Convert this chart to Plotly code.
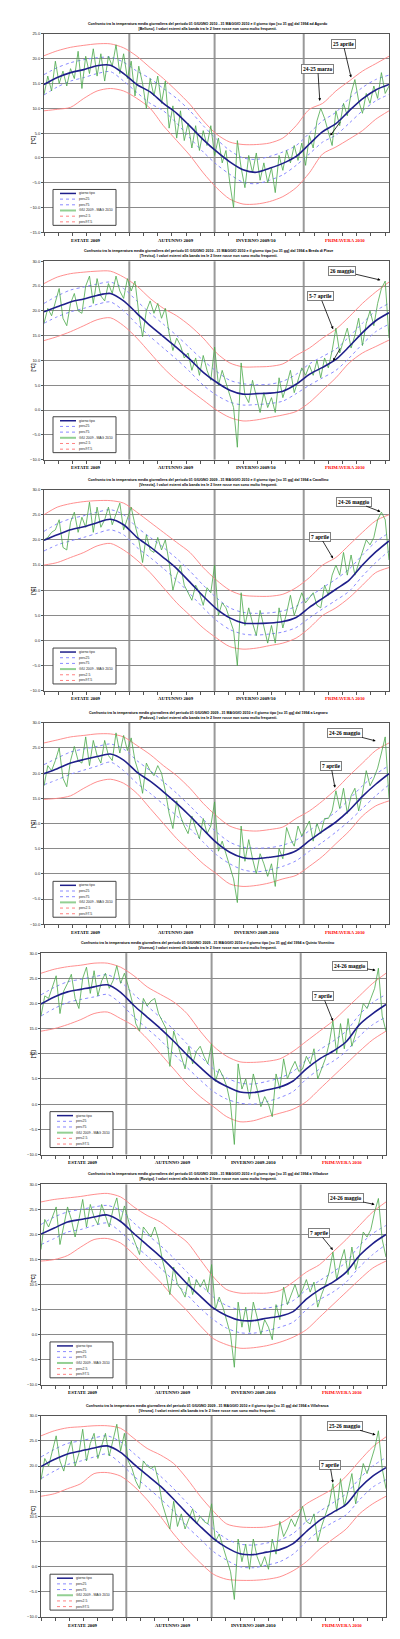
"""Temperatura media giornaliera GIU 2009 - MAG 2010 vs giorno tipo, 7 stazioni venete."""
import plotly.graph_objects as go

W, H = 400, 1639

# giorni dal 1 giugno 2009 (0) al 31 maggio 2010 (364)
SMOOTH_DAYS = list(range(0, 365, 14))
GG_DAYS = list(range(0, 365, 4))
TICK_DAYS = list(range(0, 365, 15))
SEASON_EDGES = [90, 180, 274]
SEASON_MID = [44, 139, 224, 318]

# ── Agordo ────────────────────────────────────────────────────────────
AGORDO_TIPO = [14.8, 16.2, 17.2, 17.8, 18.6, 18.7, 17.0, 14.8, 13.3, 11.0, 9.0, 6.4, 3.7, 1.3,
               -0.8, -2.4, -2.9, -2.1, -1.1, 0.3, 2.8, 5.3, 6.9, 9.5, 11.9, 13.7, 14.8]
AGORDO_P75 = [16.8, 18.2, 19.2, 19.8, 20.2, 20.3, 19.3, 17.5, 16.0, 14.0, 12.0, 9.5, 6.5, 3.8,
              1.5, 0.0, -0.3, 0.3, 1.2, 2.5, 5.0, 7.5, 9.2, 12.0, 14.2, 15.8, 16.7]
AGORDO_P25 = [12.7, 14.3, 15.5, 16.2, 17.0, 17.4, 15.5, 13.2, 11.0, 9.5, 7.0, 4.0, 1.2, -1.3,
              -3.3, -4.9, -5.2, -4.5, -3.4, -1.5, 0.8, 3.2, 4.6, 7.0, 9.5, 11.5, 12.8]
AGORDO_P975 = [20.6, 21.6, 22.3, 22.7, 23.0, 23.0, 22.2, 20.5, 18.2, 16.0, 13.5, 10.8, 7.5, 4.8,
               3.2, 2.7, 2.7, 3.0, 4.0, 6.5, 9.8, 11.0, 13.5, 15.5, 17.5, 19.0, 20.5]
AGORDO_P025 = [9.5, 9.8, 10.2, 12.0, 13.5, 14.0, 13.5, 12.0, 10.0, 6.5, 3.5, 0.5, -3.0, -6.0,
               -8.3, -9.3, -9.3, -8.8, -7.8, -6.0, -3.0, 0.8, 2.2, 3.8, 5.5, 7.8, 9.5]
AGORDO_GG = [12.8, 16.5, 13.5, 19.5, 15.0, 17.5, 14.5, 18.0, 16.0, 21.5,
             14.0, 20.5, 17.0, 22.0, 16.5, 21.0, 15.5, 20.5, 18.5, 22.8,
             17.0, 21.0, 16.0, 19.5, 12.5, 18.5, 15.0, 10.0, 16.0, 12.5,
             16.5, 11.0, 15.5, 6.0, 10.5, 4.0, 9.5, 3.5, 7.0, 2.0,
             6.5, 1.5, 5.5, 2.5, 6.5, 0.5, 4.0, -1.0, 1.5, -5.0,
             -10.0, 3.5, -2.0, -6.0, 0.5, -3.0, 1.0, -4.5, -1.0, -5.0,
             -2.0, -7.0, 0.5, -2.5, 1.5, -1.0, 2.5, -0.5, 3.0, -1.5,
             4.5, 2.0, 7.5, 10.0, 8.0, 5.5, 2.5, 9.5, 6.5, 11.0,
             8.5, 13.0, 15.8, 11.5, 9.0, 13.0, 11.0, 14.5, 12.0, 17.2,
             13.0, 14.5]

# ── Breda di Piave ────────────────────────────────────────────────────
BREDA_TIPO = [19.8, 20.8, 21.8, 22.4, 23.1, 23.5, 22.0, 19.5, 17.0, 14.8, 12.6, 10.2, 7.6, 5.6,
              4.0, 3.2, 3.3, 3.4, 3.8, 5.2, 7.2, 8.6, 10.2, 12.8, 15.6, 18.0, 19.6]
BREDA_P75 = [21.5, 23.0, 24.2, 24.8, 25.4, 25.8, 24.5, 22.0, 19.5, 17.3, 15.0, 12.5, 10.0, 7.8,
             6.0, 5.3, 5.1, 5.2, 5.8, 7.2, 9.3, 10.8, 12.3, 14.8, 17.5, 20.0, 21.5]
BREDA_P25 = [17.5, 18.8, 19.8, 20.5, 21.3, 21.8, 20.0, 17.3, 14.8, 12.5, 10.2, 7.7, 5.0, 3.0,
             1.6, 1.0, 1.1, 1.3, 1.8, 3.3, 5.0, 6.5, 8.0, 10.5, 13.3, 15.8, 17.3]
BREDA_P975 = [25.5, 26.8, 27.5, 27.8, 28.0, 28.0, 26.8, 25.0, 22.5, 20.5, 19.0, 17.0, 14.5, 11.5,
              9.5, 8.7, 8.7, 8.8, 9.3, 11.0, 12.5, 14.5, 16.3, 18.8, 21.5, 23.8, 25.8]
BREDA_P025 = [14.0, 14.8, 15.8, 17.0, 18.2, 18.6, 17.0, 14.5, 11.5, 8.5, 6.0, 4.0, 2.0, 0.0,
              -1.5, -2.2, -2.0, -1.5, -1.0, -0.3, 1.5, 4.0, 6.5, 9.5, 11.5, 12.8, 14.1]
BREDA_GG = [17.5, 20.5, 19.0, 21.5, 24.5, 18.5, 17.0, 21.5, 23.5, 20.0,
            19.5, 25.0, 27.0, 21.5, 26.5, 23.0, 22.0, 25.5, 23.5, 27.0,
            24.0, 22.5, 26.5, 24.0, 26.0, 19.5, 14.8, 20.0, 22.0, 19.5,
            21.5, 18.5, 20.5, 15.5, 12.0, 14.5, 13.0, 10.5, 11.5, 8.0,
            10.5, 7.0, 11.0, 8.0, 6.0, 12.7, 5.0, 8.0, 5.5, 3.5,
            0.5, -7.5, 9.5, 3.0, 1.5, 6.0, 3.0, -0.5, 3.5, 0.5,
            2.5, -0.5, 6.5, 2.5, 5.0, 8.0, 3.5, 6.0, 8.5, 7.0,
            9.0, 7.0, 10.0, 6.5, 10.5, 8.5, 12.0, 16.5, 11.5, 14.0,
            16.5, 12.5, 15.0, 18.5, 13.0, 17.5, 20.0, 17.0, 21.5, 24.5,
            26.0, 14.5]

# ── Cavallino ─────────────────────────────────────────────────────────
CAVALLINO_TIPO = [19.9, 21.0, 22.0, 22.6, 23.4, 24.1, 23.0, 20.5, 18.6, 16.5, 14.3, 11.6, 8.8, 6.3,
                  4.5, 3.5, 3.4, 3.5, 3.8, 4.6, 6.6, 8.4, 10.2, 12.0, 15.0, 17.6, 19.8]
CAVALLINO_P75 = [21.7, 23.2, 24.2, 24.8, 25.5, 26.0, 25.0, 22.5, 20.5, 18.5, 16.3, 13.8, 11.0, 8.5,
                 6.5, 5.6, 5.4, 5.5, 5.9, 6.8, 8.7, 10.5, 12.2, 14.2, 17.0, 19.6, 21.4]
CAVALLINO_P25 = [17.8, 19.0, 19.8, 20.5, 21.3, 22.0, 21.0, 18.5, 16.5, 14.3, 12.0, 9.3, 6.5, 4.0,
                 2.2, 1.3, 1.1, 1.3, 1.7, 2.6, 4.5, 6.3, 8.0, 9.8, 12.8, 15.5, 17.8]
CAVALLINO_P975 = [25.0, 26.5, 27.2, 27.6, 27.8, 27.8, 27.3, 25.5, 23.5, 21.5, 19.5, 17.5, 14.5, 12.0,
                  10.0, 9.0, 8.8, 8.8, 9.2, 10.5, 12.5, 15.0, 16.5, 19.0, 21.5, 23.8, 25.0]
CAVALLINO_P025 = [15.0, 15.5, 16.5, 17.5, 18.8, 19.3, 18.0, 16.0, 13.5, 10.5, 7.5, 5.0, 2.5, 0.5,
                  -1.2, -1.7, -1.5, -1.0, -0.5, 0.5, 2.5, 5.0, 6.5, 8.5, 11.0, 13.5, 14.5]
CAVALLINO_GG = [20.0, 20.5, 21.5, 22.0, 24.0, 18.5, 18.0, 23.5, 25.5, 21.5,
                24.5, 22.5, 27.5, 21.5, 26.5, 22.5, 24.0, 26.5, 23.0, 25.0,
                27.3, 22.0, 24.5, 26.5, 23.0, 20.0, 15.5, 21.0, 18.0, 17.5,
                20.5, 18.0, 20.0, 15.5, 10.0, 13.0, 15.0, 11.0, 9.5, 8.0,
                11.0, 9.5, 7.0, 10.5, 9.5, 15.0, 5.0, 7.5, 6.5, 4.0,
                2.0, -5.0, 9.5, 3.0, 6.5, 3.5, 1.0, 6.0, 2.5, -0.5,
                3.0, -0.5, 6.5, 2.5, 5.5, 9.0, 5.0, 7.5, 9.5, 7.5,
                8.5, 9.5, 7.0, 6.5, 11.0, 9.0, 13.0, 15.0, 13.0, 17.5,
                13.0, 17.0, 13.0, 15.5, 17.5, 20.0, 19.0, 20.5, 24.0, 25.5,
                24.0, 16.0]

# ── Legnaro ───────────────────────────────────────────────────────────
LEGNARO_TIPO = [19.9, 20.9, 22.0, 22.7, 23.3, 23.8, 22.6, 20.2, 18.4, 16.3, 14.0, 11.5, 8.8, 6.2,
                4.3, 3.2, 3.0, 3.3, 3.7, 4.6, 6.6, 8.5, 10.3, 12.6, 15.4, 17.8, 19.9]
LEGNARO_P75 = [21.7, 23.0, 24.2, 24.8, 25.3, 25.8, 24.8, 22.5, 20.5, 18.3, 16.0, 13.5, 10.8, 8.3,
               6.3, 5.3, 5.1, 5.2, 5.7, 6.7, 8.6, 10.5, 12.3, 14.8, 17.5, 19.8, 21.5]
LEGNARO_P25 = [17.7, 18.7, 19.8, 20.6, 21.4, 22.2, 20.5, 18.0, 16.0, 13.8, 11.5, 9.0, 6.3, 3.8,
               2.0, 0.8, 0.4, 0.8, 1.5, 2.6, 4.5, 6.3, 8.3, 10.5, 13.0, 15.5, 17.7]
LEGNARO_P975 = [26.0, 26.6, 27.2, 27.5, 27.8, 27.8, 27.2, 25.5, 23.7, 21.5, 19.5, 17.0, 14.0, 11.5,
                9.5, 8.7, 8.5, 8.8, 9.3, 11.0, 12.5, 14.5, 16.8, 19.5, 22.0, 24.5, 26.0]
LEGNARO_P025 = [14.8, 15.0, 15.5, 17.0, 18.3, 18.8, 18.0, 16.0, 13.0, 10.0, 7.0, 4.5, 2.0, 0.0,
                -2.0, -2.5, -2.3, -1.8, -1.0, -0.3, 1.5, 3.5, 6.0, 8.5, 11.5, 13.5, 14.5]
LEGNARO_GG = [17.5, 21.5, 20.5, 22.5, 25.0, 19.0, 17.3, 22.5, 25.3, 22.5,
              22.0, 27.2, 21.5, 26.5, 23.5, 22.0, 26.5, 23.5, 22.5, 28.0,
              24.0, 27.5, 24.5, 27.0, 22.5, 20.0, 16.0, 22.0, 20.5, 19.5,
              21.5, 20.0, 16.5, 12.0, 9.0, 14.5, 11.5, 9.5, 8.0, 11.5,
              9.0, 7.0, 11.0, 8.0, 9.5, 14.3, 4.5, 6.5, 4.0, 1.5,
              -1.0, -5.7, 9.5, 2.5, 6.8, 3.0, 0.0, 4.0, 2.0, -0.5,
              2.0, -2.5, 5.0, 3.0, 9.2, 7.0, 5.5, 9.5, 7.5, 9.0,
              10.5, 6.5, 10.0, 8.0, 11.0, 11.0, 12.5, 16.5, 13.0, 17.0,
              12.0, 15.5, 17.0, 12.5, 16.0, 20.5, 17.5, 19.0, 21.0, 24.0,
              27.2, 15.0]

# ── Quinto Vicentino ──────────────────────────────────────────────────
QUINTO_TIPO = [19.9, 21.3, 22.3, 22.8, 23.3, 23.7, 22.2, 19.6, 17.3, 15.0, 12.5, 9.8, 7.3, 5.0,
               3.5, 2.4, 2.3, 2.8, 3.4, 4.6, 7.0, 9.0, 10.5, 12.4, 15.8, 18.0, 19.8]
QUINTO_P75 = [21.7, 23.2, 24.3, 24.8, 25.3, 25.7, 24.3, 21.8, 19.5, 17.2, 14.8, 12.0, 9.5, 7.0,
              5.2, 4.2, 4.0, 4.5, 5.2, 6.5, 8.8, 10.8, 12.5, 14.5, 17.8, 20.2, 21.8]
QUINTO_P25 = [17.5, 19.0, 20.2, 20.8, 21.3, 21.8, 20.0, 17.3, 15.0, 12.7, 10.0, 7.3, 4.8, 2.5,
              1.0, 0.2, 0.0, 0.5, 1.3, 2.5, 5.0, 7.0, 8.5, 10.5, 13.5, 15.8, 17.3]
QUINTO_P975 = [26.0, 26.8, 27.3, 27.6, 28.0, 28.0, 27.2, 25.5, 23.3, 21.8, 20.3, 18.0, 14.5, 11.5,
               9.5, 8.4, 8.3, 8.5, 9.0, 10.5, 12.5, 14.5, 16.5, 19.0, 21.5, 24.0, 26.0]
QUINTO_P025 = [14.5, 15.0, 15.8, 16.8, 18.0, 18.3, 17.0, 15.5, 13.0, 10.0, 7.0, 4.0, 1.5, -0.5,
               -2.5, -3.5, -3.3, -2.5, -1.8, -1.0, 0.5, 3.0, 5.5, 8.0, 10.5, 12.8, 14.5]
QUINTO_GG = [17.5, 21.5, 21.0, 23.5, 25.5, 18.0, 22.5, 24.0, 25.8, 21.0,
             19.0, 25.0, 27.2, 22.0, 26.5, 21.5, 24.5, 26.0, 23.0, 24.5,
             27.5, 24.0, 26.0, 23.5, 20.5, 16.0, 14.5, 21.0, 19.5, 20.5,
             21.0, 18.0, 16.5, 15.0, 7.5, 14.5, 12.0, 9.5, 7.0, 11.5,
             8.0, 10.5, 11.5, 9.5, 8.0, 12.0, 4.5, 7.0, 5.5, 3.5,
             0.0, -8.0, 8.0, 3.0, 5.0, 1.0, 6.0, 3.0, -0.5, 1.5,
             0.0, -2.5, 6.0, 3.0, 9.0, 5.0, 7.0, 8.5, 6.5, 7.0,
             9.5, 8.0, 11.0, 5.0, 7.0, 9.0, 12.0, 16.5, 10.0, 16.0,
             11.0, 17.0, 11.5, 14.0, 16.5, 20.0, 19.0, 21.0, 23.0, 27.0,
             17.5, 14.5]

# ── Villadose ─────────────────────────────────────────────────────────
VILLADOSE_TIPO = [20.1, 21.3, 22.5, 23.0, 23.5, 23.9, 22.6, 20.2, 17.9, 15.6, 13.0, 10.2, 7.7, 5.3,
                  3.8, 2.9, 2.8, 3.3, 3.7, 4.6, 7.1, 9.0, 10.5, 12.5, 15.8, 18.2, 20.0]
VILLADOSE_P75 = [22.0, 23.5, 24.5, 25.0, 25.5, 25.8, 24.8, 22.3, 20.0, 17.8, 15.3, 12.5, 10.0, 7.5,
                 5.8, 5.0, 5.0, 5.3, 5.8, 6.8, 9.0, 10.8, 12.5, 14.5, 17.8, 20.2, 21.8]
VILLADOSE_P25 = [18.0, 19.2, 20.5, 21.0, 21.8, 22.3, 20.5, 18.0, 15.7, 13.3, 10.8, 8.0, 5.3, 3.0,
                 1.3, 0.4, 0.3, 0.8, 1.5, 2.5, 5.0, 7.0, 8.5, 10.5, 13.5, 16.0, 18.0]
VILLADOSE_P975 = [26.5, 27.0, 27.3, 27.6, 28.0, 28.2, 27.5, 25.5, 23.8, 22.5, 20.5, 18.5, 15.0, 11.5,
                  9.0, 8.3, 8.3, 8.3, 8.8, 10.5, 12.5, 14.0, 16.5, 19.0, 21.8, 24.5, 26.5]
VILLADOSE_P025 = [14.7, 15.0, 15.8, 17.5, 19.0, 19.2, 18.3, 16.0, 13.2, 10.5, 7.5, 4.8, 1.8, -0.8,
                  -2.0, -2.7, -2.6, -2.2, -1.5, -0.5, 1.0, 3.5, 6.0, 8.5, 11.0, 13.3, 14.7]
VILLADOSE_GG = [17.0, 23.0, 21.5, 23.5, 25.5, 18.0, 22.0, 25.5, 23.0, 19.5,
                23.0, 27.0, 21.5, 26.0, 23.5, 22.0, 26.0, 23.5, 21.5, 25.0,
                27.3, 22.5, 25.7, 23.0, 20.0, 18.0, 16.0, 21.5, 20.5, 19.5,
                21.5, 19.0, 15.0, 12.0, 8.0, 13.5, 10.0, 9.0, 7.5, 11.5,
                8.0, 11.0, 9.5, 11.0, 8.5, 14.0, 5.0, 7.5, 5.5, 3.0,
                0.0, -6.5, 6.5, 1.5, 5.5, 0.5, 6.5, 3.5, 0.0, 3.0,
                1.5, -1.0, 6.0, 3.0, 9.5, 6.0, 8.0, 10.0, 7.5, 9.0,
                11.0, 8.5, 10.5, 5.5, 8.0, 10.0, 12.5, 16.5, 11.0, 14.5,
                17.0, 12.0, 17.5, 13.0, 16.0, 20.5, 19.5, 21.0, 24.5, 27.2,
                19.0, 15.5]

# ── Villafranca ───────────────────────────────────────────────────────
VILLAFRANCA_TIPO = [19.9, 21.3, 22.4, 23.0, 23.6, 24.0, 22.7, 20.4, 18.2, 16.0, 13.4, 10.6, 8.0, 5.6,
                    3.8, 2.6, 2.4, 2.9, 3.4, 4.6, 7.0, 9.2, 10.8, 12.4, 15.6, 18.0, 19.7]
VILLAFRANCA_P75 = [21.8, 23.3, 24.5, 25.0, 25.6, 26.0, 24.8, 22.5, 20.3, 18.0, 15.5, 12.7, 10.0, 7.5,
                   5.5, 4.5, 4.3, 4.7, 5.3, 6.6, 9.0, 11.0, 12.7, 14.5, 17.5, 20.0, 21.7]
VILLAFRANCA_P25 = [17.5, 19.0, 20.3, 21.0, 21.8, 22.4, 20.5, 18.0, 15.8, 13.5, 11.0, 8.0, 5.5, 3.0,
                   1.3, 0.0, -0.2, 0.3, 1.0, 2.5, 5.0, 7.2, 8.8, 10.3, 13.3, 15.8, 17.3]
VILLAFRANCA_P975 = [26.0, 27.0, 27.6, 27.8, 28.0, 28.0, 27.5, 25.5, 23.5, 22.2, 20.5, 17.5, 14.0, 11.0,
                    8.5, 7.9, 7.8, 7.9, 8.6, 10.3, 12.5, 14.0, 15.5, 18.0, 21.0, 23.8, 25.8]
VILLAFRANCA_P025 = [14.0, 14.5, 15.5, 16.5, 18.5, 18.7, 18.0, 16.0, 13.3, 10.0, 6.5, 3.5, 0.8, -1.5,
                    -2.5, -2.7, -2.7, -2.5, -2.0, -0.8, 1.0, 3.5, 5.5, 7.5, 10.5, 12.5, 14.0]
VILLAFRANCA_GG = [17.3, 21.5, 20.0, 23.0, 26.0, 21.0, 19.0, 22.5, 25.0, 20.0,
                  22.5, 27.3, 21.0, 24.5, 26.5, 21.5, 24.0, 26.5, 22.0, 25.0,
                  28.3, 23.0, 26.5, 21.0, 19.5, 17.0, 15.5, 21.0, 20.0, 19.5,
                  20.0, 17.0, 12.5, 10.0, 7.5, 13.0, 8.0, 10.5, 7.5, 9.5,
                  11.5, 8.5, 10.0, 9.0, 8.5, 12.5, 5.0, 6.5, 4.0, 2.0,
                  -1.0, -6.5, 5.5, 1.0, 4.5, -0.5, 5.5, 2.0, 0.0, 2.0,
                  -0.5, 5.5, 2.5, 9.0, 6.0, 7.5, 9.5, 8.0, 10.0, 12.0,
                  9.0, 8.5, 10.5, 5.0, 8.0, 10.5, 12.5, 16.5, 11.0, 17.5,
                  12.0, 15.0, 18.5, 12.5, 16.5, 20.5, 18.5, 21.0, 23.5, 27.0,
                  19.5, 15.5]

_HEAD = ("Confronto tra la temperatura media giornaliera del periodo 01 GIUGNO {y} - 31 MAGGIO 2010 "
         "e il giorno tipo [su 31 gg] dal 1994 {a}<br>[{p}]. I valori esterni alla banda tra le 2 "
         "linee rosse non sono molto frequenti.")

# (testo, giorno punta, valore punta, ax, ay) — callout con freccia
NOTES = [
    [("25 aprile", 324, 16.2, -8, -34), ("24-25 marzo", 291, 11.5, -2, -32), ("", 302, 4.5, 11, -15)],
    [("26 maggio", 355, 26.2, -38, -9), ("5-7 aprile", 305, 16.3, -13, -33), ("", 305, 9.9, 8, -14)],
    [("24-26 maggio", 355, 25.6, -26, -10), ("7 aprile", 305, 16.3, -13, -22)],
    [("24-26 maggio", 350, 26.4, -31, -8), ("7 aprile", 307, 17.1, -4, -22)],
    [("24-26 maggio", 353, 26.6, -26, -4), ("7 aprile", 308, 16.5, -10, -25)],
    [("24-26 maggio", 352, 26.0, -29, -6), ("7 aprile", 308, 16.9, -14, -17)],
    [("25-26 maggio", 353, 26.2, -31, -9), ("7 aprile", 308, 16.7, -3, -18)],
]

PANELS = [
    dict(title=_HEAD.format(y=2010, a="ad Agordo", p="Belluno"), box=(36, 381, 23, 222),
         yr=(-15, 25), winter="INVERNO 2009/10", gg="GIU 2009 - MAG 2010",
         data=(AGORDO_TIPO, AGORDO_P25, AGORDO_P75, AGORDO_GG, AGORDO_P025, AGORDO_P975)),
    dict(title=_HEAD.format(y=2010, a="a Breda di Piave", p="Treviso"), box=(36, 381, 251, 450),
         yr=(-10, 30), winter="INVERNO 2009/10", gg="GIU 2009 - MAG 2010",
         data=(BREDA_TIPO, BREDA_P25, BREDA_P75, BREDA_GG, BREDA_P025, BREDA_P975)),
    dict(title=_HEAD.format(y=2009, a="a Cavallino", p="Venezia"), box=(36, 381, 480, 682),
         yr=(-10, 30), winter="INVERNO 2009/10", gg="GIU 2009 - MAG 2010",
         data=(CAVALLINO_TIPO, CAVALLINO_P25, CAVALLINO_P75, CAVALLINO_GG, CAVALLINO_P025, CAVALLINO_P975)),
    dict(title=_HEAD.format(y=2009, a="a Legnaro", p="Padova"), box=(36, 381, 714, 916),
         yr=(-10, 30), winter="INVERNO 2009-2010", gg="GIU 2009 - MAG 2010",
         data=(LEGNARO_TIPO, LEGNARO_P25, LEGNARO_P75, LEGNARO_GG, LEGNARO_P025, LEGNARO_P975)),
    dict(title=_HEAD.format(y=2009, a="a Quinto Vicentino", p="Vicenza"), box=(33, 378, 945, 1147),
         yr=(-10, 30), winter="INVERNO 2009-2010", gg="GIU 2009 - MAG 2010",
         data=(QUINTO_TIPO, QUINTO_P25, QUINTO_P75, QUINTO_GG, QUINTO_P025, QUINTO_P975)),
    dict(title=_HEAD.format(y=2009, a="a Villadose", p="Rovigo"), box=(33, 378, 1177, 1378),
         yr=(-10, 30), winter="INVERNO 2009-2010", gg="GIU 2009 - MAG 2010",
         data=(VILLADOSE_TIPO, VILLADOSE_P25, VILLADOSE_P75, VILLADOSE_GG, VILLADOSE_P025, VILLADOSE_P975)),
    dict(title=_HEAD.format(y=2009, a="a Villafranca", p="Verona"), box=(33, 378, 1409, 1611),
         yr=(-10, 30), winter="INVERNO 2009-2010", gg="GIU 2009 - MAG 2010",
         data=(VILLAFRANCA_TIPO, VILLAFRANCA_P25, VILLAFRANCA_P75, VILLAFRANCA_GG, VILLAFRANCA_P025, VILLAFRANCA_P975)),
]

_TIPO = '#1f1f8a'
_BLUE = '#8a8aff'
_GREEN = '#4aa84a'
_GREEN_LEG = '#93d093'
_RED = '#ff8282'
_GRID = '#8a8a8a'
_SANS = 'Liberation Sans'
_SERIF = 'Liberation Serif'


def px_x(x):
    return x / W


def px_y(y):
    return 1 - y / H


fig = go.Figure()
shapes, annots = [], []

for i, pan in enumerate(PANELS, start=1):
    sfx = '' if i == 1 else str(i)
    xa, ya = f'x{sfx}', f'y{sfx}'
    tipo, p25, p75, gg, p025, p975 = pan['data']
    x0, x1, top, bot = pan['box']

    # ── curve ─────────────────────────────────────────────────────────
    for ys, clr, dash, w in [(p025, _RED, 'solid', 0.9), (p975, _RED, 'solid', 0.9),
                             (p25, _BLUE, 'dot', 1), (p75, _BLUE, 'dot', 1)]:
        fig.add_trace(go.Scatter(x=SMOOTH_DAYS, y=ys, mode='lines', xaxis=xa, yaxis=ya,
                                 line=dict(color=clr, width=w, dash=dash, shape='spline',
                                           smoothing=0.8),
                                 hoverinfo='skip', showlegend=False))
    fig.add_trace(go.Scatter(x=GG_DAYS, y=gg, mode='lines', xaxis=xa, yaxis=ya,
                             line=dict(color=_GREEN, width=0.8),
                             hoverinfo='skip', showlegend=False))
    fig.add_trace(go.Scatter(x=SMOOTH_DAYS, y=tipo, mode='lines', xaxis=xa, yaxis=ya,
                             line=dict(color=_TIPO, width=1.6, shape='spline', smoothing=0.8),
                             hoverinfo='skip', showlegend=False))

    # ── assi ──────────────────────────────────────────────────────────
    fig.update_layout(**{
        f'xaxis{sfx}': dict(domain=[px_x(x0), px_x(x1)], anchor=ya, range=[0, 364],
                            showgrid=False, zeroline=False, showticklabels=False,
                            tickmode='array', tickvals=TICK_DAYS, ticks='outside',
                            ticklen=3, tickcolor='#555', tickwidth=1,
                            showline=True, linecolor='#555', linewidth=1, mirror=True),
        f'yaxis{sfx}': dict(domain=[px_y(bot), px_y(top)], anchor=xa, range=list(pan['yr']),
                            dtick=5, tickformat='.1f', showgrid=True, gridcolor=_GRID,
                            gridwidth=1, zeroline=False, ticks='outside', ticklen=2,
                            tickcolor='#555', tickfont=dict(family=_SANS, size=4, color='#222'),
                            showline=True, linecolor='#555', linewidth=1, mirror=True),
    })

    # linee di stagione
    for d in SEASON_EDGES:
        shapes.append(dict(type='line', xref=xa, yref=f'{ya} domain', x0=d, x1=d, y0=0, y1=1,
                           line=dict(color='#999999', width=2), layer='below'))

    # titolo
    annots.append(dict(xref='paper', yref='paper', x=0.5, y=px_y(top - 1), yanchor='bottom',
                       text=f'<b>{pan["title"]}</b>', showarrow=False,
                       font=dict(family=_SANS, size=3.6, color='#000')))
    # [°C]
    annots.append(dict(xref='paper', yref='paper', x=px_x(21), y=px_y((top + bot) / 2),
                       text='<b>[°C]</b>', textangle=-90, showarrow=False,
                       font=dict(family=_SANS, size=4.5, color='#000')))
    # stagioni
    for d, lab in zip(SEASON_MID, ['ESTATE 2009', 'AUTUNNO 2009', pan['winter'], 'PRIMAVERA 2010']):
        annots.append(dict(xref=xa, yref=f'{ya} domain', x=d, y=0, yshift=-8, yanchor='middle',
                           text=f'<b>{lab}</b>', showarrow=False,
                           font=dict(family=_SERIF, size=4.8,
                                     color='#ff0000' if lab.startswith('PRIM') else '#000')))

    # legenda disegnata a mano (compatta come nell'originale)
    lx, ly = x0 + 9, bot - 43
    shapes.append(dict(type='rect', xref='paper', yref='paper',
                       x0=px_x(lx), x1=px_x(lx + 63), y0=px_y(ly + 36), y1=px_y(ly),
                       line=dict(color='#444', width=1), fillcolor='white'))
    for k, (lab, clr, dash, w) in enumerate([
            ('giorno tipo', _TIPO, 'solid', 1.5), ('perc25', _BLUE, 'dot', 1),
            ('perc75', _BLUE, 'dot', 1), (pan['gg'], _GREEN_LEG, 'solid', 2),
            ('perc2.5', _RED, 'dot', 1), ('perc97.5', _RED, 'dot', 1)]):
        yy = ly + 4 + k * 5.7
        shapes.append(dict(type='line', xref='paper', yref='paper',
                           x0=px_x(lx + 7), x1=px_x(lx + 23), y0=px_y(yy), y1=px_y(yy),
                           line=dict(color=clr, width=w, dash=dash)))
        annots.append(dict(xref='paper', yref='paper', x=px_x(lx + 24), y=px_y(yy),
                           xanchor='left', yanchor='middle', text=lab, showarrow=False,
                           font=dict(family=_SANS, size=3.4, color='#222')))

    # callout
    for txt, d, v, ax, ay in NOTES[i - 1]:
        note = dict(xref=xa, yref=ya, x=d, y=v, ax=ax, ay=ay,
                    text=f'<b>{txt}</b>' if txt else '', showarrow=True,
                    arrowhead=2, arrowsize=0.7, arrowwidth=0.8, arrowcolor='#000',
                    font=dict(family=_SERIF, size=5.5, color='#000'))
        if txt:
            note.update(bgcolor='white', bordercolor='#7f7f7f', borderwidth=1, borderpad=1)
        annots.append(note)

fig.update_layout(width=W, height=H, autosize=False, showlegend=False,
                  margin=dict(l=0, r=0, t=0, b=0),
                  paper_bgcolor='white', plot_bgcolor='white',
                  shapes=shapes, annotations=annots)

fig.write_html("out.html")
